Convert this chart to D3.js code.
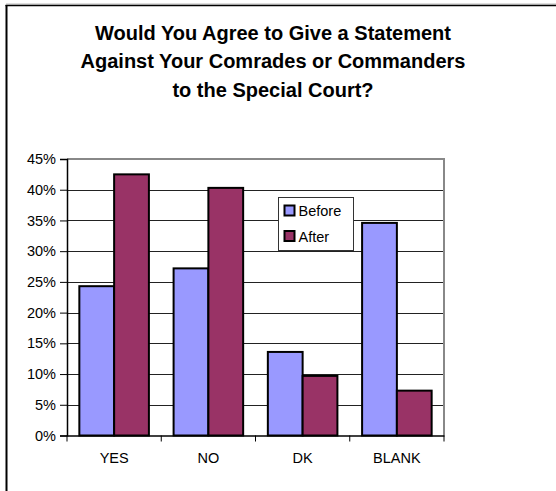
<!DOCTYPE html>
<html>
<head>
<meta charset="utf-8">
<script src="https://cdn.jsdelivr.net/npm/d3@7"></script>
<style>
html,body{margin:0;padding:0;background:#fff;}
svg{display:block;font-family:Arial,"Liberation Sans",sans-serif;}
</style>
</head>
<body>
<svg id="chart" width="556" height="491"></svg>
<script>
const titleLines = ["Would You Agree to Give a Statement", "Against Your Comrades or Commanders", "to the Special Court?"];
const categories = ["YES", "NO", "DK", "BLANK"];
const seriesNames = ["Before", "After"];
const beforeValues = [24.3, 27.2, 13.6, 34.6];
const afterValues = [42.5, 40.3, 9.7, 7.3];
const yTicks = [0, 5, 10, 15, 20, 25, 30, 35, 40, 45];
const colors = ["#9999FF", "#993366"];

const FONT = "Arial, 'Liberation Sans', sans-serif";
const svg = d3.select("#chart");
const W = 556, H = 491;
const plot = {left: 67, right: 444, top: 159, bottom: 435.5};

// outer frame
svg.append("line").attr("x1", 6).attr("x2", W).attr("y1", 4).attr("y2", 4).attr("stroke", "#bbb").attr("stroke-width", 1);
svg.append("line").attr("x1", 5.5).attr("x2", W).attr("y1", 5.5).attr("y2", 5.5).attr("stroke", "#000").attr("stroke-width", 1.5);
svg.append("line").attr("x1", 6.5).attr("x2", 6.5).attr("y1", 5).attr("y2", H).attr("stroke", "#000").attr("stroke-width", 2);

// title
titleLines.forEach((t, i) => {
  svg.append("text").attr("text-anchor", "middle")
    .attr("font-size", 20).attr("font-weight", "bold").attr("fill", "#000").attr("font-family", FONT)
    .attr("x", 273).attr("y", 40 + i * 28.3).text(t);
});

const x = d3.scaleBand().domain(categories).range([plot.left, plot.right]).paddingInner(0).paddingOuter(0);
const y = d3.scaleLinear().domain([0, 45]).range([plot.bottom, plot.top]);
const inner = d3.scaleBand().domain(seriesNames).range([0, x.bandwidth()]).paddingInner(0).paddingOuter(0.355);

// gridlines
svg.append("g").selectAll("line").data(yTicks.filter(d => d > 0 && d < 45)).join("line")
  .attr("x1", plot.left).attr("x2", plot.right)
  .attr("y1", d => Math.round(y(d)) + 0.5).attr("y2", d => Math.round(y(d)) + 0.5)
  .attr("stroke", "#222").attr("stroke-width", 1);

// plot border top & right (gray)
svg.append("line").attr("x1", plot.left).attr("x2", plot.right + 1).attr("y1", plot.top).attr("y2", plot.top).attr("stroke", "#888").attr("stroke-width", 2);
svg.append("line").attr("x1", plot.right).attr("x2", plot.right).attr("y1", plot.top).attr("y2", plot.bottom).attr("stroke", "#888").attr("stroke-width", 2);

// bars
const data = categories.map((c, i) => ({cat: c, vals: [beforeValues[i], afterValues[i]]}));
const groups = svg.append("g").selectAll("g").data(data).join("g")
  .attr("transform", d => `translate(${x(d.cat)},0)`);
groups.selectAll("rect").data(d => d.vals.map((v, j) => ({name: seriesNames[j], v, j}))).join("rect")
  .attr("x", d => inner(d.name))
  .attr("y", d => y(d.v))
  .attr("width", inner.bandwidth())
  .attr("height", d => y(0) - y(d.v))
  .attr("fill", d => colors[d.j])
  .attr("stroke", "#000").attr("stroke-width", 2);

// y axis
const yAxis = d3.axisLeft(y).tickValues(yTicks).tickFormat(d => d + "%").tickSize(7).tickPadding(4);
const ya = svg.append("g").attr("transform", `translate(${plot.left},0)`).call(yAxis);
ya.select(".domain").attr("stroke", "#000").attr("stroke-width", 1.5);
ya.selectAll(".tick line").attr("stroke", "#000");
ya.selectAll("text").attr("font-size", 14.5).attr("fill", "#000").attr("font-family", FONT);

// x axis
const xAxis = d3.axisBottom(x).tickSize(0).tickPadding(17);
const xa = svg.append("g").attr("transform", `translate(0,${plot.bottom})`).call(xAxis);
xa.select(".domain").attr("stroke", "#000").attr("stroke-width", 1.5);
xa.selectAll("text").attr("font-size", 14.5).attr("fill", "#000").attr("font-family", FONT);
// category separator ticks
const sepTicks = categories.map(c => x(c)).concat([x(categories[categories.length - 1]) + x.bandwidth()]);
xa.append("g").selectAll("line").data(sepTicks).join("line")
  .attr("x1", d => d).attr("x2", d => d).attr("y1", 0).attr("y2", 6)
  .attr("stroke", "#000").attr("stroke-width", 1);

// legend
const lg = svg.append("g").attr("transform", "translate(278.5,197.5)");
lg.append("rect").attr("width", 75).attr("height", 53).attr("fill", "#fff").attr("stroke", "#333").attr("stroke-width", 1);
seriesNames.forEach((n, i) => {
  const row = lg.append("g").attr("transform", `translate(6,${8 + i * 25.5})`);
  row.append("rect").attr("width", 10).attr("height", 10).attr("fill", colors[i]).attr("stroke", "#000").attr("stroke-width", 2);
  row.append("text").attr("x", 14).attr("y", 10.5).attr("font-size", 14.5)
    .attr("font-family", FONT).attr("fill", "#000").text(n);
});
</script>
</body>
</html>
